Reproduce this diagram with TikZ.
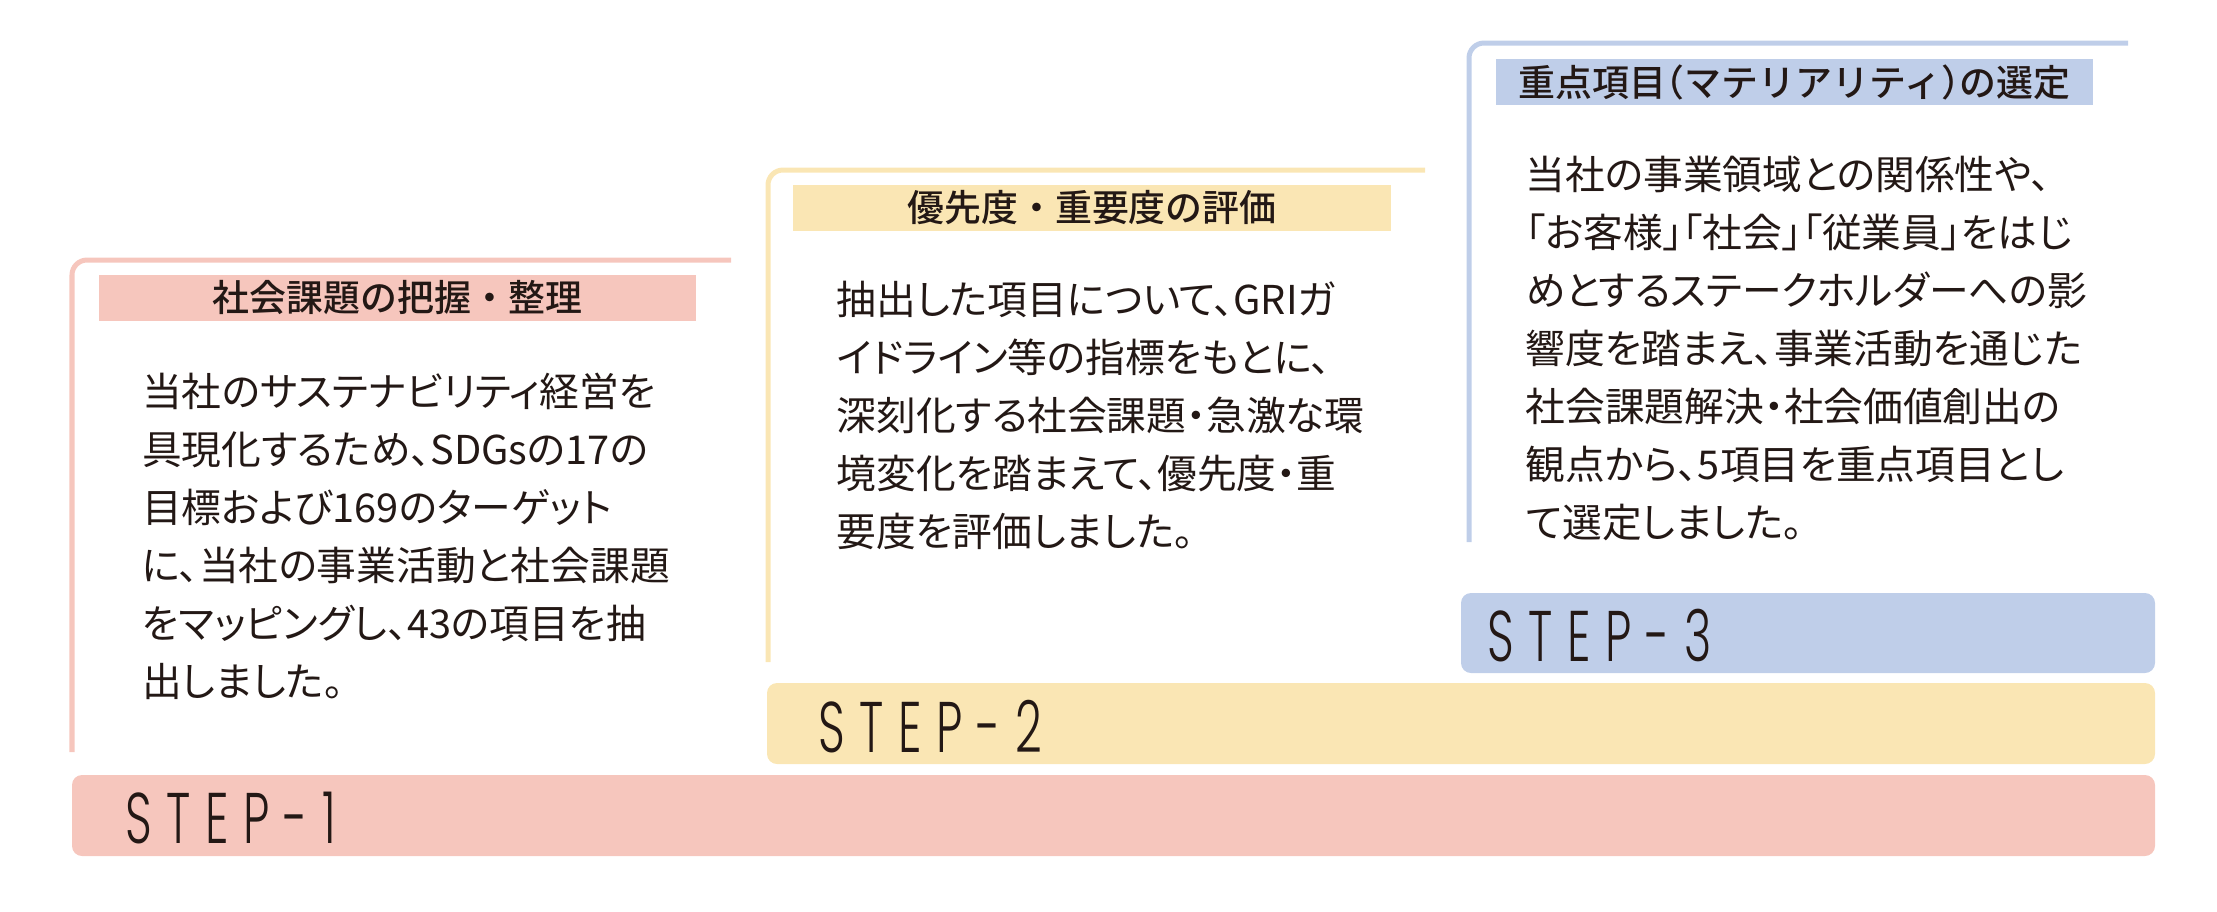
\documentclass[tikz,border=0pt]{standalone}
\usepackage{fontspec}
\newfontfamily\jpbody{Noto Sans CJK JP}[RawFeature=+palt]
\newfontfamily\jptitle{Noto Sans CJK JP Medium}
\newfontfamily\stepfont{Poppins Light}[FakeStretch=0.65,LetterSpace=20]
\newcommand\hw[1]{{\addfontfeature{RawFeature=+halt}#1}}
\definecolor{stepone}{HTML}{F6C6BD}
\definecolor{steptwo}{HTML}{FAE6B4}
\definecolor{stepthree}{HTML}{BFCEE9}
\definecolor{inkc}{HTML}{231815}

\begin{document}
\begin{tikzpicture}[x=0.01cm,y=-0.01cm]
        \tikzset{lline/.style={line width=0.05cm,rounded corners=0.15cm},
          titlebar/.style={minimum width=5.97cm,minimum height=0.46cm,inner sep=0,text=inkc,
            font=\jptitle\fontsize{10.5}{12}\selectfont},
          bodytext/.style={anchor=north west,inner sep=0,align=left,text=inkc,
            font=\jpbody\fontsize{11.3}{16.5}\selectfont},
          stepbar/.style={rounded corners=0.1cm},
          steplabel/.style={anchor=base west,inner sep=0,text=inkc,
            font=\stepfont\fontsize{20.4}{24}\selectfont}}
        \useasboundingbox (0,0) rectangle (2217,911);
        % step bars
        \fill[stepone,stepbar] (72,775) rectangle (2155,856);
        \fill[steptwo,stepbar] (767,683) rectangle (2155,764);
        \fill[stepthree,stepbar] (1461,593) rectangle (2155,673);
        \node[steplabel] (s1) at (125,843) {STEP-1};
        \node[steplabel] (s2) at (818,752) {STEP-2};
        \node[steplabel] (s3) at (1487,661) {STEP-3};
        % frames
        \draw[stepone,lline] (72,752) -- (72,260) -- (731,260);
        \draw[steptwo,lline] (768,662) -- (768,170) -- (1425,170);
        \draw[stepthree,lline] (1469,542) -- (1469,43) -- (2128,43);
        % titles
        \node[titlebar,fill=stepone] (t1) at (397.5,298) {社会課題の把握・整理};
        \node[titlebar,fill=steptwo] (t2) at (1092,208) {優先度・重要度の評価};
        \node[titlebar,fill=stepthree] (t3) at (1794.5,82) {重点項目\hw{（}マテリアリティ\hw{）}の選定};
        % texts
        \node[bodytext] (b1) at (141.5,372) {当社のサステナビリティ経営を\\
          具現化するため、SDGsの17の\\
          目標および169のターゲット\\
          に、当社の事業活動と社会課題\\
          をマッピングし、43の項目を抽\\
          出しました。};
        \node[bodytext] (b2) at (836,280) {抽出した項目について、GRIガ\\
          イドライン等の指標をもとに、\\
          深刻化する社会課題・急激な環\\
          境変化を踏まえて、優先度・重\\
          要度を評価しました。};
        \node[bodytext] (b3) at (1525,155) {当社の事業領域との関係性や、\\
          「お客様」「社会」「従業員」をはじ\\
          めとするステークホルダーへの影\\
          響度を踏まえ、事業活動を通じた\\
          社会課題解決・社会価値創出の\\
          観点から、5項目を重点項目とし\\
          て選定しました。};
\end{tikzpicture}
\end{document}
